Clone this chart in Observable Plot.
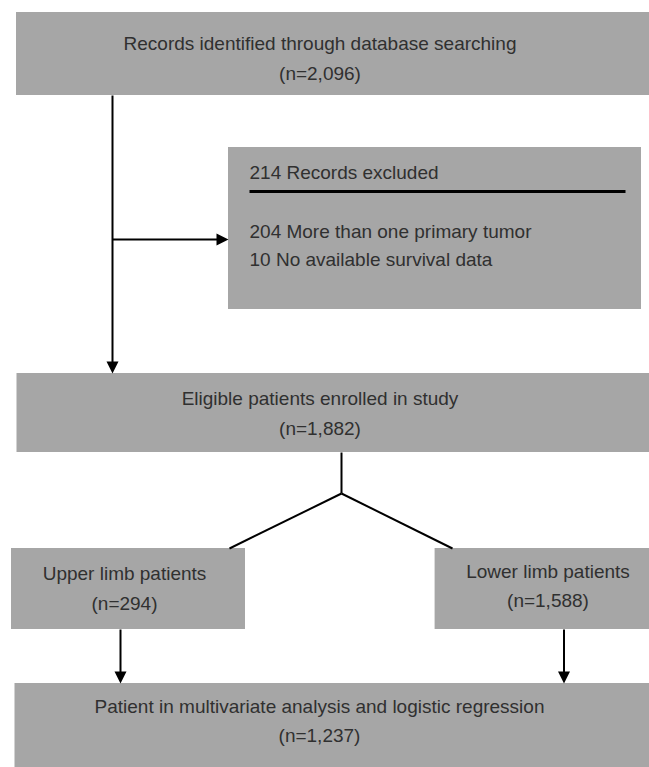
<!DOCTYPE html>
<html>
<head>
<meta charset="utf-8">
<script src="https://cdn.jsdelivr.net/npm/d3@7"></script>
<script src="https://cdn.jsdelivr.net/npm/@observablehq/plot@0.6"></script>
<style>
  html, body { margin: 0; padding: 0; background: #ffffff; }
  #chart svg { display: block; }
</style>
</head>
<body>
<div id="chart"></div>
<script>
// ---- Data ----
const stepLabels = [
  "Records identified through database searching",
  "Eligible patients enrolled in study",
  "Upper limb patients",
  "Lower limb patients",
  "Patient in multivariate analysis and logistic regression"
];
const stepCounts = ["2,096", "1,882", "294", "1,588", "1,237"];
const excludedTotal = 214;
const exclusionReasons = ["More than one primary tumor", "No available survival data"];
const exclusionCounts = [204, 10];

// ---- Layout (diagram geometry) ----
const W = 649, H = 767;
const stepBoxes = [
  {x1: 16, x2: 649, y1: 12, y2: 95, cx: 319.5, ty: [43, 73]},
  {x1: 16.5, x2: 649, y1: 373, y2: 452, cx: 319.5, ty: [398, 428]},
  {x1: 11, x2: 245, y1: 548, y2: 629, cx: 124, ty: [573, 603]},
  {x1: 434.6, x2: 649, y1: 548, y2: 629, cx: 547.5, ty: [571, 600]},
  {x1: 14.5, x2: 649, y1: 683, y2: 767, cx: 319, ty: [706, 735]}
];
const exclBox = {x1: 228, x2: 641, y1: 147, y2: 309, tx: 249, titleY: 172, ruleY: 191, ruleX2: 625, reasonY: [231, 259]};

const boxes = stepBoxes.map((b, i) => ({...b, label: stepLabels[i], count: stepCounts[i]}))
  .concat([{...exclBox}]);

const texts = [];
boxes.slice(0, 5).forEach(b => {
  texts.push({x: b.cx, y: b.ty[0], t: b.label});
  texts.push({x: b.cx, y: b.ty[1], t: `(n=${b.count})`});
});
const leftTexts = [
  {x: exclBox.tx, y: exclBox.titleY, t: `${excludedTotal} Records excluded`},
  ...exclusionReasons.map((r, i) => ({x: exclBox.tx, y: exclBox.reasonY[i], t: `${exclusionCounts[i]} ${r}`}))
];

// connectors: plain segments and arrows
const segments = [
  {x1: 341, y1: 452, x2: 341, y2: 493},
  {x1: 341, y1: 493, x2: 229, y2: 548},
  {x1: 341, y1: 493, x2: 452, y2: 548}
];
const arrows = [
  {x1: 112, y1: 95, x2: 112, y2: 373},
  {x1: 112, y1: 239, x2: 228, y2: 239},
  {x1: 120, y1: 629, x2: 120, y2: 683},
  {x1: 563.5, y1: 629, x2: 563.5, y2: 683}
];
const headLen = 12, headHalf = 6;
const heads = [];
arrows.forEach((a, i) => {
  const dx = a.x2 - a.x1, dy = a.y2 - a.y1, L = Math.hypot(dx, dy);
  const ux = dx / L, uy = dy / L;
  const bx = a.x2 - ux * headLen, by = a.y2 - uy * headLen;
  heads.push({id: i, x: a.x2, y: a.y2});
  heads.push({id: i, x: bx - uy * headHalf, y: by + ux * headHalf});
  heads.push({id: i, x: bx + uy * headHalf, y: by - ux * headHalf});
});
const shafts = arrows.map(a => {
  const dx = a.x2 - a.x1, dy = a.y2 - a.y1, L = Math.hypot(dx, dy);
  return {x1: a.x1, y1: a.y1, x2: a.x2 - dx / L * (headLen - 1), y2: a.y2 - dy / L * (headLen - 1)};
});

const font = "'Liberation Sans', Arial, Helvetica, sans-serif";
const fill = "#a6a6a6";
const ink = "#303030";

const chart = Plot.plot({
  width: W, height: H,
  margin: 0,
  x: {domain: [0, W], axis: null},
  y: {domain: [0, H], reverse: true, axis: null},
  style: {fontFamily: font, background: "#ffffff"},
  marks: [
    Plot.rect(boxes, {x1: "x1", x2: "x2", y1: "y1", y2: "y2", fill}),
    Plot.link([{x1: exclBox.tx, x2: exclBox.ruleX2, y: exclBox.ruleY}], {x1: "x1", x2: "x2", y1: "y", y2: "y", stroke: "#000", strokeWidth: 3}),
    Plot.link(segments, {x1: "x1", y1: "y1", x2: "x2", y2: "y2", stroke: "#000", strokeWidth: 2}),
    Plot.link(shafts, {x1: "x1", y1: "y1", x2: "x2", y2: "y2", stroke: "#000", strokeWidth: 2}),
    Plot.line(heads, {x: "x", y: "y", z: "id", fill: "#000", stroke: "none"}),
    Plot.text(texts, {x: "x", y: "y", text: "t", fontSize: 19, fill: ink, textAnchor: "middle"}),
    Plot.text(leftTexts, {x: "x", y: "y", text: "t", fontSize: 19, fill: ink, textAnchor: "start"})
  ]
});
document.getElementById("chart").appendChild(chart);
</script>
</body>
</html>
